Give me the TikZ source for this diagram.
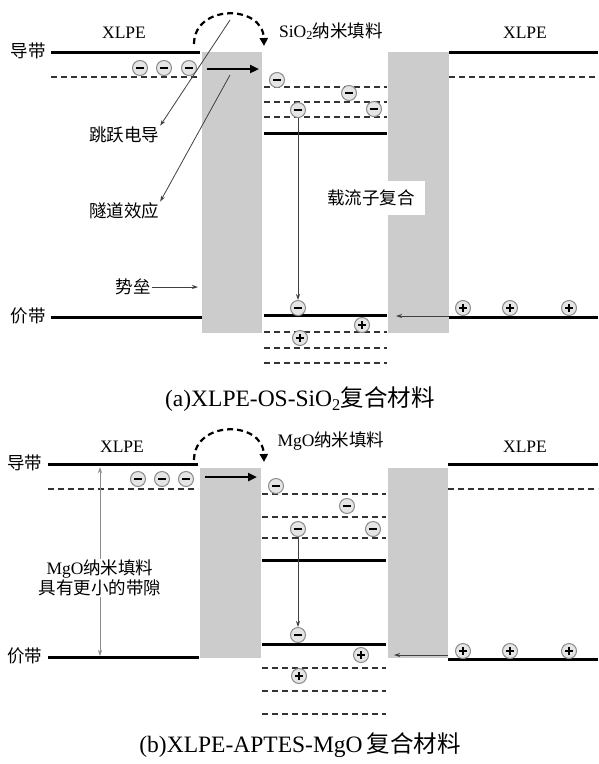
\documentclass[tikz,border=0pt]{standalone}
\usepackage{fontspec}
\setmainfont{Liberation Serif}
\newfontfamily\cjk{Noto Sans CJK SC}
\usetikzlibrary{arrows.meta}
\begin{document}
\begin{tikzpicture}[x=1pt,y=-1pt,
  band/.style={line width=3pt,black},
  trap/.style={line width=1.3pt,black!80,dash pattern=on 6pt off 4pt},
  barrier/.style={fill=black!20,draw=none},
  elec/.style={circle,draw=black!45,fill=black!10,minimum size=15pt,inner sep=0pt,line width=1pt,
    path picture={\draw[line width=2.4pt,black] ([xshift=-3.8pt]path picture bounding box.center) -- ([xshift=3.8pt]path picture bounding box.center);}},
  hole/.style={circle,draw=black!45,fill=black!10,minimum size=15pt,inner sep=0pt,line width=1pt,
    path picture={\draw[line width=2.3pt,black] ([xshift=-3.8pt]path picture bounding box.center) -- ([xshift=3.8pt]path picture bounding box.center);
      \draw[line width=2.3pt,black] ([yshift=-3.8pt]path picture bounding box.center) -- ([yshift=3.8pt]path picture bounding box.center);}},
  lbl/.style={font=\fontsize{17.5}{21}\selectfont,inner sep=1pt},
  captxt/.style={font=\fontsize{23.5}{27}\selectfont,inner sep=1pt},
  thinarr/.style={line width=0.8pt,black!75,-{Stealth[length=6pt,width=4pt]}},
  pale/.style={line width=0.7pt,black!45,-{Stealth[length=6pt,width=4pt]}},
  hop/.style={line width=2.2pt,dash pattern=on 6pt off 4pt,-{Triangle[length=8pt,width=8pt]}},
  push/.style={line width=2.4pt,-{Triangle[length=9pt,width=8pt]}}
]
\useasboundingbox (0,0) rectangle (598,764);

% ===================== Panel (a) =====================
\fill[barrier] (202,52) rectangle (262,333);
\fill[barrier] (388,52) rectangle (449,333);
\draw[band] (51,52) -- (200,52);
\draw[band] (449,52) -- (598,52);
\draw[trap] (51,77) -- (200,77);
\draw[trap] (449,77) -- (598,77);
\foreach \yy in {87,102,117} \draw[trap] (264,\yy) -- (387,\yy);
\draw[band] (264,133) -- (387,133);
\draw[band] (264,315) -- (387,315);
\foreach \yy in {332,348,363} \draw[trap] (264,\yy) -- (387,\yy);
\draw[band] (51,317) -- (202,317);
\draw[band] (449,317) -- (598,317);

\node[lbl] (xa1) at (124,33) {XLPE};
\node[lbl] (xa2) at (525,33) {XLPE};
\node[lbl] (sio) at (331,31) {SiO\textsubscript{2}{\cjk 纳米填料}};
\node[lbl] (cba) at (28,51) {\cjk 导带};
\node[lbl] (vba) at (28,316) {\cjk 价带};
\node[lbl] (hopl) at (124,135) {\cjk 跳跃电导};
\node[lbl] (tunl) at (124,211) {\cjk 隧道效应};
\node[lbl] (barl) at (133,287) {\cjk 势垒};
\node[lbl,fill=white,minimum width=107pt,minimum height=34pt] (reca) at (371,198) {\cjk 载流子复合};

\node[elec] (ea1) at (140,68) {};
\node[elec] (ea2) at (164,68) {};
\node[elec] (ea3) at (189,68) {};
\node[elec] (ea4) at (277,80) {};
\node[elec] (ea5) at (349,93) {};
\node[elec] (ea6) at (298,110) {};
\node[elec] (ea7) at (374,109) {};
\node[elec] (ea8) at (298,308) {};
\node[hole] (ha1) at (362,325) {};
\node[hole] (ha2) at (300,338) {};
\node[hole] (ha3) at (463,308) {};
\node[hole] (ha4) at (510,308) {};
\node[hole] (ha5) at (569,308) {};

\coordinate (hopAs) at (194,44);
\coordinate (hopAe) at (264,46);
\draw[hop] (hopAs) .. controls (194,4) and (263,4) .. (hopAe);
\coordinate (pushAs) at (207,69);
\coordinate (pushAe) at (259,69);
\draw[push] (pushAs) -- (pushAe);
\coordinate (hopTa) at (230,20);
\draw[thinarr] (hopTa) -- (hopl.north east);
\coordinate (tunTa) at (230,75);
\draw[thinarr] (tunTa) -- (tunl.north east);
\coordinate (barTa) at (198,287);
\draw[thinarr] (barl.east) -- (barTa);
\draw[thinarr] (ea6.south) -- (ea8.north);
\coordinate (vbAs) at (449,316);
\coordinate (vbAe) at (396,316);
\draw[thinarr] (vbAs) -- (vbAe);

\node[captxt] (capa) at (300,399) {(a)XLPE-OS-SiO\textsubscript{2}{\cjk 复合材料}};

% ===================== Panel (b) =====================
\fill[barrier] (200,468) rectangle (261,658);
\fill[barrier] (388,468) rectangle (448,658);
\draw[band] (48,464) -- (198,464);
\draw[band] (448,464) -- (598,464);
\draw[trap] (48,489) -- (198,489);
\draw[trap] (448,489) -- (598,489);
\foreach \yy in {494,517,538} \draw[trap] (262,\yy) -- (386,\yy);
\draw[band] (262,560) -- (386,560);
\draw[band] (262,644) -- (386,644);
\foreach \yy in {668,691,714} \draw[trap] (262,\yy) -- (386,\yy);
\draw[band] (48,657) -- (199,657);
\draw[band] (448,659) -- (598,659);

\node[lbl] (xb1) at (122,447) {XLPE};
\node[lbl] (xb2) at (525,447) {XLPE};
\node[lbl] (mgo) at (331,441) {MgO{\cjk 纳米填料}};
\node[lbl] (cbb) at (25,463) {\cjk 导带};
\node[lbl] (vbb) at (25,656) {\cjk 价带};
\node[lbl,align=center] (gapl) at (100,578) {MgO{\cjk 纳米填料}\\[-1pt]{\cjk 具有更小的带隙}};

\node[elec] (eb1) at (138,479) {};
\node[elec] (eb2) at (162,479) {};
\node[elec] (eb3) at (186,479) {};
\node[elec] (eb4) at (276,486) {};
\node[elec] (eb5) at (347,506) {};
\node[elec] (eb6) at (298,529) {};
\node[elec] (eb7) at (373,529) {};
\node[elec] (eb8) at (298,635) {};
\node[hole] (hb1) at (361,655) {};
\node[hole] (hb2) at (299,676) {};
\node[hole] (hb3) at (463,651) {};
\node[hole] (hb4) at (510,651) {};
\node[hole] (hb5) at (569,651) {};

\coordinate (hopBs) at (194,460);
\coordinate (hopBe) at (264,462);
\draw[hop] (hopBs) .. controls (194,420) and (263,420) .. (hopBe);
\coordinate (pushBs) at (205,477);
\coordinate (pushBe) at (257,477);
\draw[push] (pushBs) -- (pushBe);
\coordinate (gapTop) at (100,467);
\coordinate (gapBot) at (100,656);
\draw[pale] (gapl.north) -- (gapTop);
\draw[pale] (gapl.south) -- (gapBot);
\draw[thinarr] (eb6.south) -- (eb8.north);
\coordinate (vbBs) at (448,655);
\coordinate (vbBe) at (394,655);
\draw[thinarr] (vbBs) -- (vbBe);

\node[captxt] (capb) at (300,745) {(b)XLPE-APTES-MgO\,{\cjk 复合材料}};
\end{tikzpicture}
\end{document}
